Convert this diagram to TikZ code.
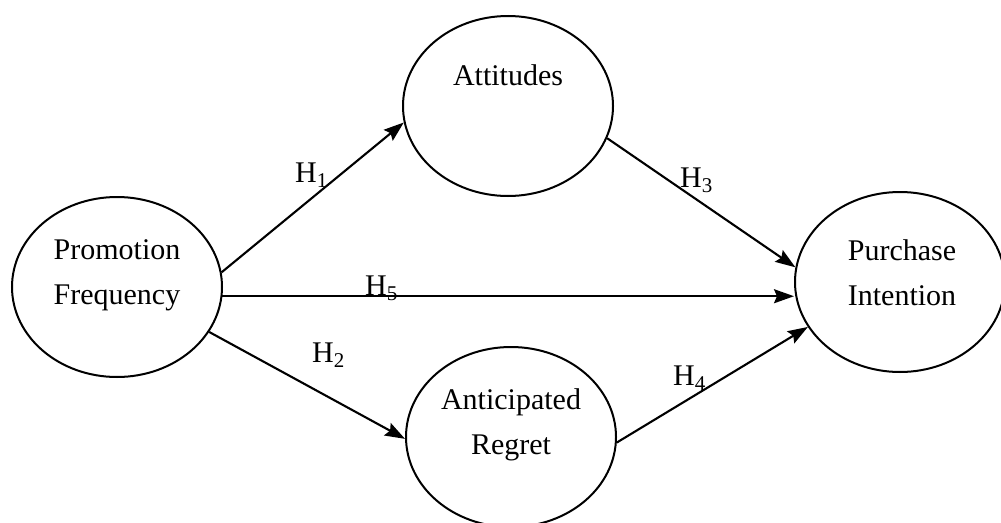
\documentclass[tikz,border=0pt]{standalone}
\usepackage{fontspec}
\setmainfont{Liberation Serif}
\usetikzlibrary{shapes.geometric,arrows.meta}
\begin{document}
\begin{tikzpicture}[x=1pt,y=-1pt,
  oval/.style={ellipse,draw,line width=2pt,minimum width=210pt,minimum height=180pt,inner sep=0pt},
  txt/.style={font=\fontsize{30}{45}\selectfont,align=center,inner sep=0pt},
  hyp/.style={font=\fontsize{30}{36}\selectfont,inner sep=0pt,anchor=base west},
  arr/.style={line width=2.1pt,-{Stealth[length=20pt,width=14pt,inset=3pt]}}]
\useasboundingbox (0,0) rectangle (1001,522);

% constructs
\node[oval] (pf) at (117,287) {};
\node[oval] (att) at (508,106) {};
\node[oval] (ar) at (511,437) {};
\node[oval] (pi) at (900,282) {};

\node[txt] (pf-t) at (117,275) {Promotion\\Frequency};
\node[txt] (att-t) at (508,75) {Attitudes};
\node[txt] (ar-t) at (511,425) {Anticipated\\Regret};
\node[txt] (pi-t) at (902,273) {Purchase\\Intention};

% hypothesised paths
\draw[arr] (pf.8) -- (att.189);
\draw[arr] (pf.-5) -- (pf.-5 -| pi.west);
\draw[arr] (pf.-26) -- (ar.181);
\draw[arr] (att.-18) -- (pi.172);
\draw[arr] (ar.-3) -- (pi.206);

% path labels
\node[hyp] (h1) at (295,182) {H\textsubscript{1}};
\node[hyp] (h2) at (312,362) {H\textsubscript{2}};
\node[hyp] (h3) at (680,187) {H\textsubscript{3}};
\node[hyp] (h4) at (673,385) {H\textsubscript{4}};
\node[hyp] (h5) at (365,295) {H\textsubscript{5}};
\end{tikzpicture}
\end{document}
